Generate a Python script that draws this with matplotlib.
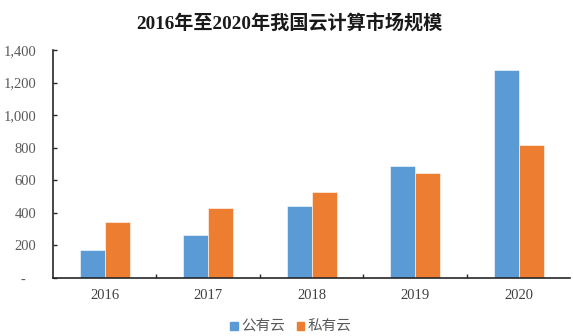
import numpy as np
import matplotlib
matplotlib.use('Agg')
import matplotlib.pyplot as plt
from matplotlib.ticker import FixedLocator, FuncFormatter
from matplotlib.patches import Patch

years = ['2016', '2017', '2018', '2019', '2020']
public_cloud = [170.1, 264.8, 437.4, 689.3, 1277.0]
private_cloud = [344.8, 426.8, 525.0, 645.2, 814.0]
y_ticks = [0, 200, 400, 600, 800, 1000, 1200, 1400]

BLUE = '#5B9BD5'
ORANGE = '#ED7D31'
FONT = ['Liberation Serif', 'Noto Sans CJK SC']

fig = plt.figure(figsize=(5.73, 3.36), dpi=100)
ax = fig.add_axes([0.0925, 0.174, 0.903, 0.677])

x = np.arange(len(years))
w = 0.24
ax.bar(x - w / 2, public_cloud, w, color=BLUE, edgecolor='white', linewidth=0.4, label='公有云')
ax.bar(x + w / 2, private_cloud, w, color=ORANGE, edgecolor='white', linewidth=0.4, label='私有云')

ax.set_xlim(-0.5, len(years) - 0.5)
ax.set_ylim(0, 1400)
ax.yaxis.set_major_locator(FixedLocator(y_ticks))
# Excel accounting style: zero shown as a dash
ax.yaxis.set_major_formatter(FuncFormatter(lambda v, p: '-   ' if v == 0 else f'{int(v):,}'))

ax.set_xticks(x)
ax.set_xticklabels(years)
ax.xaxis.set_minor_locator(FixedLocator(np.arange(0.5, len(years) - 1, 1.0)))
ax.tick_params(axis='x', which='major', length=0, pad=8, labelsize=10.5, colors='#404040')
ax.tick_params(axis='x', which='minor', direction='in', length=3, width=1, color='#262626')
ax.tick_params(axis='y', direction='in', length=3, width=1, color='#262626',
               pad=12, labelsize=10.5, labelcolor='#595959')
for lab in ax.get_xticklabels() + ax.get_yticklabels():
    lab.set_family(FONT)

for side in ['top', 'right']:
    ax.spines[side].set_visible(False)
for side in ['left', 'bottom']:
    ax.spines[side].set_color('#262626')
    ax.spines[side].set_linewidth(1.2)

fig.text(0.505, 0.929, '2016年至2020年我国云计算市场规模', ha='center', va='center',
         fontsize=13.8, fontweight='bold', family=FONT, color='#1a1a1a')

handles = [Patch(color=BLUE, label='公有云'), Patch(color=ORANGE, label='私有云')]
fig.legend(handles=handles, loc='center', bbox_to_anchor=(0.508, 0.026), ncol=2, frameon=False,
           prop={'family': FONT, 'size': 10.5}, handlelength=0.5, handleheight=0.5,
           handletextpad=0.25, columnspacing=0.8, labelcolor='#595959')

fig.savefig('out.png', dpi=100, facecolor='white')
